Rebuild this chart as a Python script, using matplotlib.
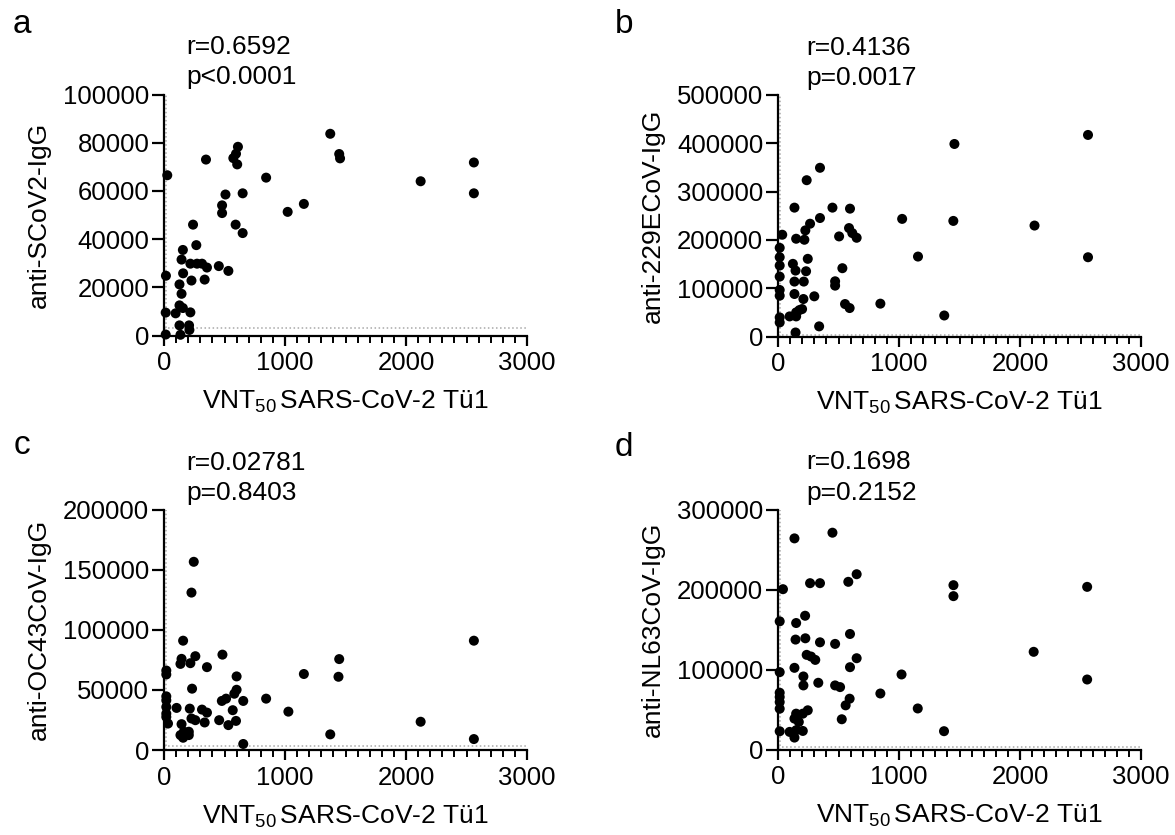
import matplotlib
matplotlib.use('Agg')
import matplotlib.pyplot as plt
from matplotlib.ticker import MultipleLocator

plt.rcParams['font.family'] = ['Liberation Sans', 'DejaVu Sans']
plt.rcParams['mathtext.fontset'] = 'custom'
plt.rcParams['mathtext.rm'] = 'Liberation Sans'
plt.rcParams['mathtext.it'] = 'Liberation Sans:italic'

# panel a: anti-SCoV2-IgG
xa = [27, 347, 573, 595, 611, 605, 844, 508, 650, 480, 480, 240, 592, 650, 267, 156, 145,
      218, 273, 314, 355, 453, 532, 158, 227, 336, 16, 128, 145, 128, 156, 14, 96, 218,
      128, 207, 210, 14, 136, 1022, 1156, 1374, 1448, 1455, 2121, 2561, 2561]
ya = [66500, 73000, 73600, 75400, 78300, 71000, 65500, 58500, 59000, 54000, 50800, 46000,
      46000, 42500, 37500, 35500, 31500, 29800, 29800, 29800, 28200, 28800, 26800, 25800,
      22800, 23200, 24800, 21200, 17300, 12500, 11400, 9500, 9200, 9600, 4200, 4200, 2300,
      400, 300, 51300, 54600, 83700, 75300, 73500, 64000, 71800, 59000]

# panel b: anti-229ECoV-IgG
xb = [35, 14, 14, 14, 14, 14, 14, 14, 14, 136, 237, 347, 150, 218, 226, 265, 347, 450, 595,
      587, 505, 614, 650, 123, 145, 136, 213, 246, 232, 136, 210, 300, 532, 472, 472, 554,
      592, 96, 150, 177, 199, 150, 340, 145, 846, 1026, 1157, 1374, 1458, 1449, 2120, 2562,
      2562]
yb = [210700, 183600, 164200, 146900, 124000, 96300, 84500, 39500, 29100, 266800, 323600,
      349300, 202400, 200300, 219700, 233500, 245300, 266800, 264700, 224500, 207200,
      214100, 204400, 150400, 136500, 113700, 113700, 160800, 135100, 88000, 77600, 83200,
      141400, 114300, 105300, 67200, 58900, 41600, 49900, 54700, 56800, 41600, 21000, 8300,
      68000, 243500, 165500, 43500, 398600, 239300, 229700, 417300, 164100]

# panel c: anti-OC43CoV-IgG
xc = [246, 227, 158, 145, 136, 218, 259, 355, 483, 19, 19, 600, 600, 232, 19, 19, 19, 19, 19,
      33, 104, 213, 314, 355, 478, 513, 581, 655, 568, 456, 532, 595, 227, 259, 336, 145,
      164, 205, 136, 158, 205, 655, 844, 1028, 1156, 1374, 1448, 1442, 2121, 2561, 2561]
yc = [156500, 130900, 90900, 75800, 71600, 72200, 78000, 68900, 79300, 66100, 62800, 61200,
      50100, 51000, 44600, 41300, 35800, 30300, 27500, 22000, 35000, 34400, 33600, 31100,
      40800, 42700, 46800, 40800, 33100, 24800, 20700, 24200, 26200, 24800, 22900, 21500,
      15200, 15200, 12400, 10200, 12400, 5000, 42700, 31900, 63200, 13000, 75600, 60900,
      23500, 90900, 9100]

# panel d: anti-NL63CoV-IgG
xd = [136, 450, 41, 265, 347, 581, 650, 14, 150, 224, 145, 226, 347, 472, 595, 237, 273,
      308, 650, 595, 136, 14, 210, 210, 333, 472, 513, 14, 14, 14, 14, 592, 559, 527, 246,
      205, 150, 136, 172, 14, 96, 136, 205, 150, 846, 1021, 1155, 1372, 1450, 1450, 2113,
      2555, 2555]
yd = [263900, 271000, 200400, 207900, 207900, 209600, 219100, 160200, 158100, 167200,
      137400, 139000, 134000, 132000, 144400, 118300, 116200, 112000, 114100, 102900,
      102100, 96700, 91300, 80100, 83400, 80100, 78000, 71000, 65600, 59300, 51000, 63500,
      55200, 37800, 49000, 44800, 44800, 38600, 34400, 22800, 22000, 14900, 23200, 24100,
      70000, 93800, 51300, 22900, 205400, 191700, 122100, 203300, 87500]

panel_letters = ['a', 'b', 'c', 'd']
ylabels = ['anti-SCoV2-IgG', 'anti-229ECoV-IgG', 'anti-OC43CoV-IgG', 'anti-NL63CoV-IgG']
ymax = [100000, 500000, 200000, 300000]
ystep = [20000, 100000, 50000, 100000]
cutoff_y = [3200, 4000, 3500, 3500]
r_text = ['r=0.6592', 'r=0.4136', 'r=0.02781', 'r=0.1698']
p_text = ['p<0.0001', 'p=0.0017', 'p=0.8403', 'p=0.2152']

W, H = 1175, 835
# axes boxes in pixels: left, y of x-axis, y of top tick, width
boxes = [(164, 335.5, 94.5, 363), (778, 336.5, 95, 363),
         (164, 750, 509.5, 363), (778, 749.5, 509.5, 363)]
letter_xy = [(13, 33), (615, 33), (14, 454), (615, 456)]
stats_xy = [(186, 54, 84), (806, 55, 85), (186, 470, 500), (806, 469, 500)]


def draw_panel(ax, x, y, i):
    ax.axvline(20, 0, 1, color='#a8a8a8', ls=':', lw=1.1, zorder=1)
    ax.axhline(cutoff_y[i], 0, 1, color='#a8a8a8', ls=':', lw=1.1, zorder=1)
    ax.scatter(x, y, s=52, color='black', edgecolors='none', zorder=3, clip_on=False)
    ax.set_xlim(0, 3000)
    ax.set_ylim(0, ymax[i])
    ax.xaxis.set_major_locator(MultipleLocator(1000))
    ax.xaxis.set_minor_locator(MultipleLocator(100))
    ax.yaxis.set_major_locator(MultipleLocator(ystep[i]))
    for s in ['top', 'right']:
        ax.spines[s].set_visible(False)
    for s in ['left', 'bottom']:
        ax.spines[s].set_linewidth(1.6)
    ax.tick_params(axis='y', which='major', length=8.6, width=1.6, pad=2, labelsize=18.5)
    ax.tick_params(axis='x', which='major', length=7.2, width=1.6, pad=4, labelsize=18.5)
    ax.tick_params(axis='x', which='minor', length=4.8, width=1.4)
    ax.set_xlabel(r'VNT$_{\mathrm{50}}\,$SARS-CoV-2 Tü1', fontsize=19, labelpad=10)
    ax.set_ylabel(ylabels[i], fontsize=19, labelpad=9)


fig = plt.figure(figsize=(W / 100, H / 100), dpi=100)
data = [(xa, ya), (xb, yb), (xc, yc), (xd, yd)]
for i, (x, y) in enumerate(data):
    left, y0, ytop, width = boxes[i]
    ax = fig.add_axes([left / W, 1 - y0 / H, width / W, (y0 - ytop) / H])
    draw_panel(ax, x, y, i)
    lx, ly = letter_xy[i]
    fig.text(lx / W, 1 - ly / H, panel_letters[i], fontsize=24, va='baseline', ha='left')
    sx, ry, py = stats_xy[i]
    fig.text(sx / W, 1 - ry / H, r_text[i], fontsize=19, va='baseline', ha='left')
    fig.text(sx / W, 1 - py / H, p_text[i], fontsize=19, va='baseline', ha='left')

fig.savefig('out.png', dpi=100)
